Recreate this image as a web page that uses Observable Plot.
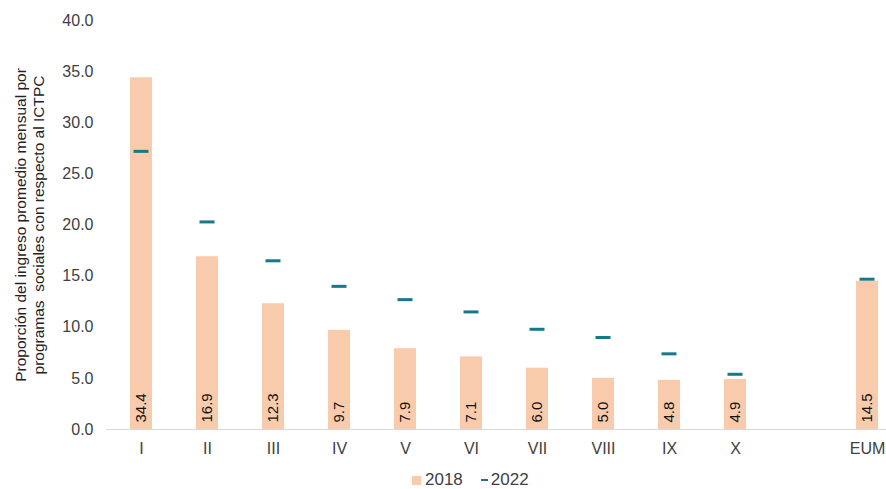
<!DOCTYPE html>
<html>
<head>
<meta charset="utf-8">
<script src="https://cdn.jsdelivr.net/npm/d3@7"></script>
<script src="https://cdn.jsdelivr.net/npm/@observablehq/plot@0.6"></script>
<style>
  html, body { margin: 0; padding: 0; background: #fff; }
  body { width: 886px; height: 489px; overflow: hidden; font-family: "Liberation Sans", Arial, sans-serif; }
  #chart svg { display: block; overflow: visible; }
  .legend { display: flex; align-items: center; margin-left: 412px; margin-top: 9px; height: 18px; line-height: 18px; font-size: 17px; color: #404040; }
  .sw-bar { width: 9px; height: 9px; background: #f8cbad; margin-right: 4px; }
  .sw-dash { width: 7px; height: 2px; background: #17788a; margin-left: 18px; margin-right: 3px; }
</style>
</head>
<body>
<div id="chart"></div>
<div class="legend"><span class="sw-bar"></span><span>2018</span><span class="sw-dash"></span><span>2022</span></div>
<script>
const categories = ["I", "II", "III", "IV", "V", "VI", "VII", "VIII", "IX", "X", "EUM"];
const domainCats = ["I", "II", "III", "IV", "V", "VI", "VII", "VIII", "IX", "X", " ", "EUM"];
const values2018 = [34.4, 16.9, 12.3, 9.7, 7.9, 7.1, 6.0, 5.0, 4.8, 4.9, 14.5];
const values2022 = [27.2, 20.3, 16.5, 14.0, 12.7, 11.5, 9.8, 9.0, 7.4, 5.4, 14.7];
const yTicks = [0, 5, 10, 15, 20, 25, 30, 35, 40];
const yTitle = "Proporción del ingreso promedio mensual por\nprogramas  sociales con respecto al ICTPC";

const data = categories.map((c, i) => ({cat: c, v2018: values2018[i], v2022: values2022[i]}));

const plot = Plot.plot({
  width: 886,
  height: 462,
  marginLeft: 106,
  marginRight: 0,
  marginTop: 20,
  marginBottom: 33,
  style: {fontFamily: "Liberation Sans, Arial, sans-serif", background: "#fff"},
  x: {domain: domainCats, range: [106, 902], paddingInner: 0.67, paddingOuter: 0.335, label: null},
  y: {domain: [0, 40], label: null},
  marks: [
    Plot.barY(data, {x: "cat", y: "v2018", fill: "#f8cbad"}),
    Plot.ruleY([0], {stroke: "#d9d9d9", strokeWidth: 1}),
    Plot.tickY(data, {x: "cat", y: "v2022", stroke: "#17788a", strokeWidth: 3, insetLeft: 3.5, insetRight: 3.5}),
    Plot.text(data, {x: "cat", y: () => 0, text: d => d.v2018.toFixed(1), rotate: -90, textAnchor: "start", dy: -7, fontSize: 15, fill: "#111"}),
    Plot.axisY({ticks: yTicks, tickFormat: d => d.toFixed(1), tickSize: 0, tickPadding: 13, fontSize: 16, color: "#404040", label: null}),
    Plot.axisX({ticks: categories, tickSize: 0, tickPadding: 13, fontSize: 16, color: "#404040", label: null}),
    Plot.text([yTitle], {frameAnchor: "left", dx: -77, rotate: -90, textAnchor: "middle", lineAnchor: "middle", fontSize: 15.5, fill: "#222", lineHeight: 1.15})
  ]
});
document.getElementById("chart").appendChild(plot);
</script>
</body>
</html>
